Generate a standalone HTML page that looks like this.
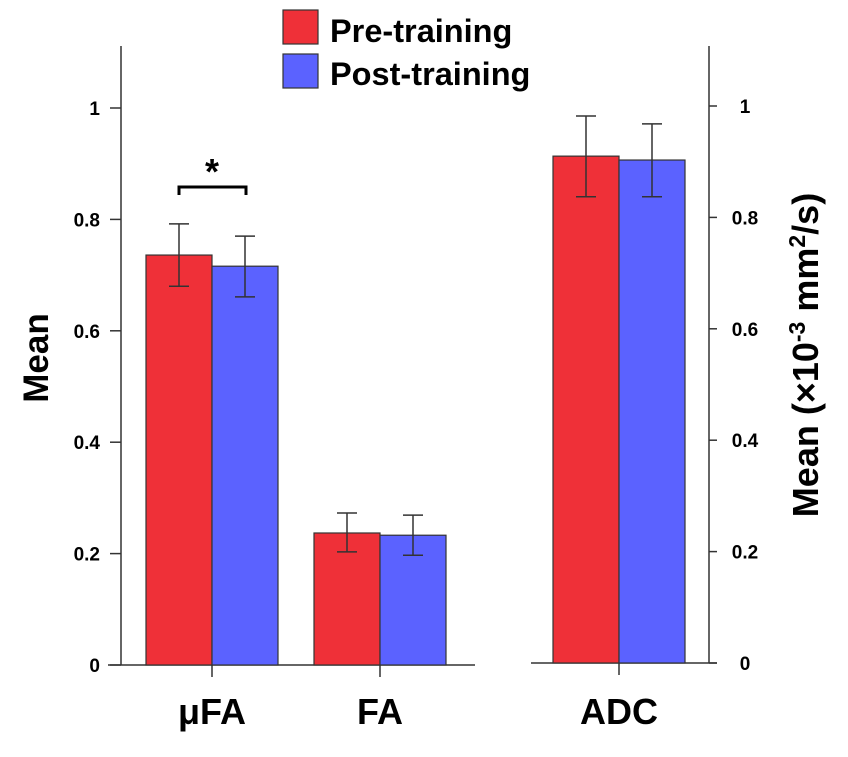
<!DOCTYPE html>
<html><head><meta charset="utf-8"><style>
body{margin:0;background:#fff;}
svg text{font-family:"Liberation Sans",Arial,sans-serif;font-weight:bold;fill:#000;}
</style></head><body>
<svg width="848" height="752" viewBox="0 0 848 752">
<g id="g"></g>
</svg>
<script>
const categories = ["μFA", "FA", "ADC"];
const preValues = [0.736, 0.237, 0.910];
const postValues = [0.716, 0.233, 0.903];
const preErrHi = [0.792, 0.273, 0.982];
const preErrLo = [0.680, 0.203, 0.837];
const postErrHi = [0.770, 0.269, 0.968];
const postErrLo = [0.661, 0.197, 0.837];
const tickLabels = ["0", "0.2", "0.4", "0.6", "0.8", "1"];
const tickValues = [0, 0.2, 0.4, 0.6, 0.8, 1];

const NS = "http://www.w3.org/2000/svg";
const g = document.getElementById("g");
function mk(tag, attrs, parent){const e=document.createElementNS(NS,tag);for(const k in attrs)e.setAttribute(k,attrs[k]);(parent||g).appendChild(e);return e;}
const y0 = 665, pxPer = 557;
function yL(v){return y0 - v*pxPer;}
const y0R = 663;
function yR(v){return y0R - v*pxPer;}
const centers = [212, 380, 619];
const bw = 66;

let e;
e=mk("line",{x1:121,y1:46,x2:121,y2:665,stroke:"#333","stroke-width":1.5});

e=mk("line",{x1:108,y1:665,x2:475,y2:665,stroke:"#333","stroke-width":1.5});

e=mk("line",{x1:709,y1:46,x2:709,y2:663,stroke:"#333","stroke-width":1.5});

e=mk("line",{x1:531,y1:663,x2:717,y2:663,stroke:"#333","stroke-width":1.5});


tickValues.forEach((v,i)=>{
  let t=mk("line",{x1:110,y1:yL(v),x2:121,y2:yL(v),stroke:"#333","stroke-width":1.5});
  
  let l=mk("text",{x:100,y:yL(v)+7,"text-anchor":"end","font-size":19});
  l.textContent=tickLabels[i];
  
  let t2=mk("line",{x1:709,y1:yR(v),x2:717,y2:yR(v),stroke:"#333","stroke-width":1.5});
  
  let l2=mk("text",{x:745,y:yR(v)+7,"text-anchor":"middle","font-size":19});
  l2.textContent=tickLabels[i];
  
});

categories.forEach((c,i)=>{
  const yf = i===2 ? yR : yL;
  const base = i===2 ? y0R : y0;
  const cx = centers[i];
  let r=mk("rect",{x:cx-bw,y:yf(preValues[i]),width:bw,height:base-yf(preValues[i]),fill:"#ef3038",stroke:"#333","stroke-width":1.2});
  
  let b=mk("rect",{x:cx,y:yf(postValues[i]),width:bw,height:base-yf(postValues[i]),fill:"#5b62ff",stroke:"#333","stroke-width":1.2});
  
  [[cx-bw/2,preErrHi[i],preErrLo[i]],[cx+bw/2,postErrHi[i],postErrLo[i]]].forEach(([x,hi,lo])=>{
    let p=mk("path",{d:`M${x},${yf(hi)}V${yf(lo)}M${x-10},${yf(hi)}H${x+10}M${x-10},${yf(lo)}H${x+10}`,stroke:"#333","stroke-width":1.5,fill:"none"});
    
  });
  let tk=mk("line",{x1:cx,y1:base,x2:cx,y2:base+12,stroke:"#333","stroke-width":1.5});
  
  let lb=mk("text",{x:cx,y:724,"text-anchor":"middle","font-size":36});
  lb.textContent=c;
  
});
</script>
<script>
const svg=document.querySelector("svg");
function add(html){svg.insertAdjacentHTML("beforeend",html);}
add('<path d="M179,195V187H246V195" stroke="#000" stroke-width="3" fill="none"/>');
add('<text x="212" y="184" text-anchor="middle" font-size="36">*</text>');
add('<rect x="283" y="10" width="35" height="34" fill="#ef3038" stroke="#333" stroke-width="1.2"/>');
add('<text x="330" y="42" font-size="32.5">Pre-training</text>');
add('<rect x="283" y="54" width="35" height="34" fill="#5b62ff" stroke="#333" stroke-width="1.2"/>');
add('<text x="330" y="85" font-size="32.5">Post-training</text>');
add('<text transform="translate(48,358) rotate(-90)" text-anchor="middle" font-size="35">Mean</text>');
add('<text transform="translate(818,355) rotate(-90)" text-anchor="middle" font-size="36">Mean (×10<tspan dy="-13" font-size="23">-3</tspan><tspan dy="13"> mm</tspan><tspan dy="-13" font-size="23">2</tspan><tspan dy="13">/s)</tspan></text>');
</script>
</body></html>
